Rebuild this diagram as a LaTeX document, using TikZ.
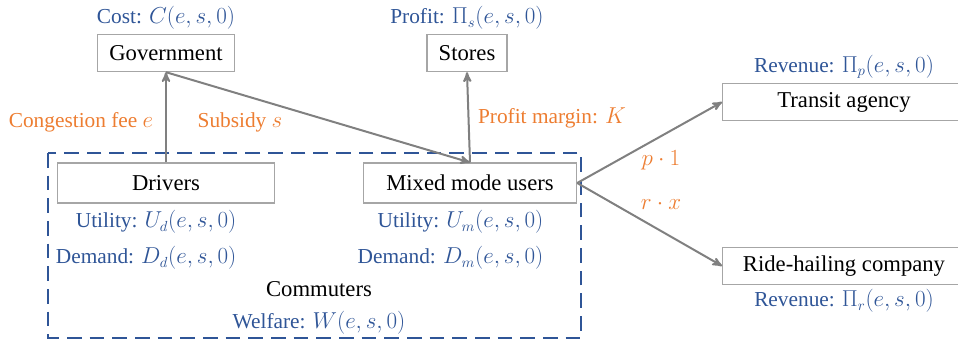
\documentclass[tikz,border=0pt]{standalone}
\usepackage{fontspec}
\setmainfont{Liberation Serif}
\newfontfamily\diagfont{Liberation Serif}
\usetikzlibrary{arrows}
\usetikzlibrary{positioning}
\definecolor{labelblue}{RGB}{47, 85, 151}
\definecolor{feeorange}{RGB}{237, 125, 49}
\definecolor{boxgray}{RGB}{166, 166, 166}
\definecolor{flowgray}{RGB}{128, 128, 128}
\tikzset{
  agent/.style={draw=boxgray, line width=0.8pt, inner sep=0,
    minimum height=28pt, font=\diagfont\fontsize{17}{20}\selectfont},
  value/.style={text=labelblue, inner sep=1pt, font=\diagfont\fontsize{16}{19}\selectfont},
  payment/.style={text=feeorange, inner sep=1pt, font=\diagfont\fontsize{16}{19}\selectfont},
  flow/.style={->,>=stealth', draw=flowgray, line width=1.5pt},
  group/.style={draw=labelblue, line width=1.8pt, dash pattern=on 11pt off 6pt}
}
\begin{document}
\begin{tikzpicture}[x=0.75pt,y=-0.75pt]
    \useasboundingbox (0,0) rectangle (958,345);

    % players
    \node [agent, minimum width=103pt] (gov) at (166,53) {Government};
    \node [agent, minimum width=60pt] (stores) at (467,53) {Stores};
    \node [agent, minimum width=163pt, minimum height=30pt] (drivers) at (166,183) {Drivers};
    \node [agent, minimum width=160pt, minimum height=30pt] (mixed) at (470,183) {Mixed mode users};
    \node [agent, minimum width=182pt] (transit) at (844,102) {Transit agency};
    \node [agent, minimum width=182pt] (ride) at (844,266) {Ride-hailing company};

    % commuters group
    \draw [group] (48,153) rectangle (581,338);

    % blue values
    \node [value, above=2pt of gov] (govc) {Cost: $C(e,s,0)$};
    \node [value, above=2pt of stores] (storesp) {Profit: $\Pi_s(e,s,0)$};
    \node [value, above=2pt of transit] (transitr) {Revenue: $\Pi_p(e,s,0)$};
    \node [value, below=2pt of ride] (rider) {Revenue: $\Pi_r(e,s,0)$};
    \node [value, anchor=east] (du) at (238,222) {Utility: $U_d(e,s,0)$};
    \node [value, anchor=east] (dd) at (238,258) {Demand: $D_d(e,s,0)$};
    \node [value, anchor=east] (mu) at (545,222) {Utility: $U_m(e,s,0)$};
    \node [value, anchor=east] (md) at (545,258) {Demand: $D_m(e,s,0)$};
    \node [font=\diagfont\fontsize{17}{20}\selectfont] (comm) at (319,289) {Commuters};
    \node [value, below=6pt of comm] (welf) {Welfare: $W(e,s,0)$};

    % payments
    \node [payment] (fee) at (81,122) {Congestion fee $e$};
    \node [payment] (sub) at (240,122) {Subsidy $s$};
    \node [payment] (marg) at (552,118) {Profit margin: $K$};
    \node [payment] (pone) at (661,160) {$p\cdot 1$};
    \node [payment] (rx) at (661,204) {$r\cdot x$};

    \path (drivers) edge [flow] (gov)
          (gov.south) edge [flow] (mixed.north)
          (mixed.north) edge [flow] (stores.south)
          (mixed.east) edge [flow] (transit.west)
          (mixed.east) edge [flow] (ride.west);
\end{tikzpicture}
\end{document}
